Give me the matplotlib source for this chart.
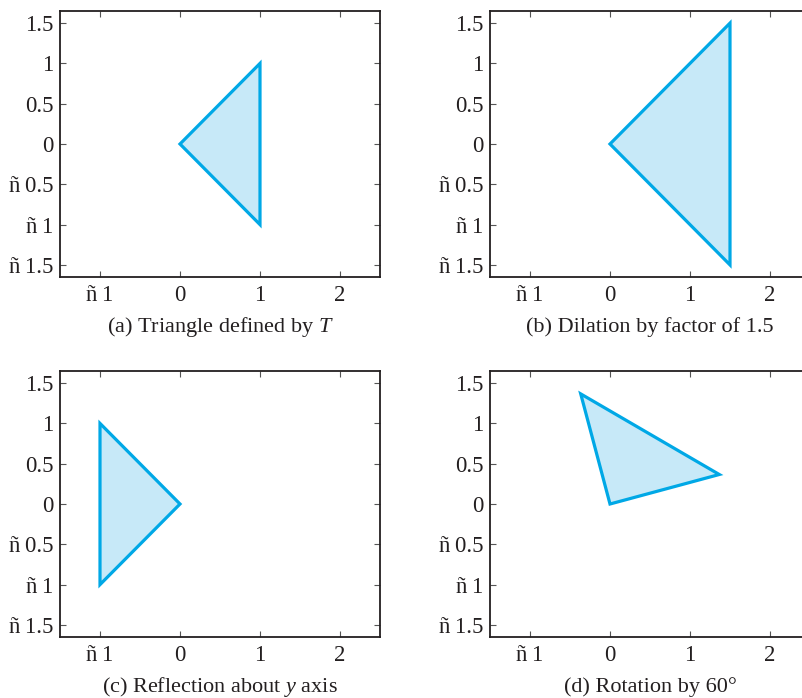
import matplotlib
matplotlib.use("Agg")
import matplotlib.pyplot as plt
from matplotlib.ticker import FixedLocator, FixedFormatter

plt.rcParams['font.family'] = ['Liberation Serif', 'DejaVu Serif']
plt.rcParams['mathtext.fontset'] = 'custom'
plt.rcParams['mathtext.rm'] = 'Liberation Serif'
plt.rcParams['mathtext.it'] = 'Liberation Serif:italic'

# ---- data ----
tri_x = [0, 1, 1]
tri_y = [0, 1, -1]
dil_x = [0, 1.5, 1.5]
dil_y = [0, 1.5, -1.5]
ref_x = [0, -1, -1]
ref_y = [0, 1, -1]
rot_x = [0, -0.366, 1.366]
rot_y = [0, 1.366, 0.366]

captions = ["(a) Triangle defined by $T$",
            "(b) Dilation by factor of 1.5",
            "(c) Reflection about $y$ axis",
            "(d) Rotation by 60\u00b0"]

xticks = [-1, 0, 1, 2]
xticklabels = ["\u00f1\u20091", "0", "1", "2"]
yticks = [-1.5, -1, -0.5, 0, 0.5, 1, 1.5]
yticklabels = ["\u00f1\u20091.5", "\u00f1\u20091", "\u00f1\u20090.5", "0", "0.5", "1", "1.5"]

W, H = 802, 698
fig = plt.figure(figsize=(W / 100, H / 100), dpi=100)

def px_axes(left, top, right, bottom):
    return fig.add_axes([left / W, 1 - bottom / H, (right - left) / W, (bottom - top) / H])

boxes = [(60, 11, 380, 277), (490, 11, 810, 277),
         (60, 371, 380, 637), (490, 371, 810, 637)]
shapes = [(tri_x, tri_y), (dil_x, dil_y), (ref_x, ref_y), (rot_x, rot_y)]

edge = '#00a8e6'
face = '#c7e9f8'
spine_c = '#231f20'

for box, (xs, ys), cap in zip(boxes, shapes, captions):
    ax = px_axes(*box)
    ax.fill(xs, ys, facecolor=face, edgecolor=edge, linewidth=2.3, joinstyle='miter')
    ax.set_xlim(-1.5, 2.5)
    ax.set_ylim(-1.65, 1.65)
    ax.xaxis.set_major_locator(FixedLocator(xticks))
    ax.xaxis.set_major_formatter(FixedFormatter(xticklabels))
    ax.yaxis.set_major_locator(FixedLocator(yticks))
    ax.yaxis.set_major_formatter(FixedFormatter(yticklabels))
    ax.tick_params(direction='in', length=4.5, width=0.8, color='#555555',
                   top=True, right=True, labelsize=16.5, labelcolor='#231f20')
    ax.tick_params(axis='x', pad=5.5)
    ax.tick_params(axis='y', pad=4.5)
    for s in ax.spines.values():
        s.set_linewidth(1.3)
        s.set_color(spine_c)
    ax.annotate(cap, xy=(0.5, 0), xycoords='axes fraction',
                xytext=(0, -39.5), textcoords='offset points',
                ha='center', va='baseline', fontsize=16, color='#231f20')

fig.savefig('out.png', dpi=100)
